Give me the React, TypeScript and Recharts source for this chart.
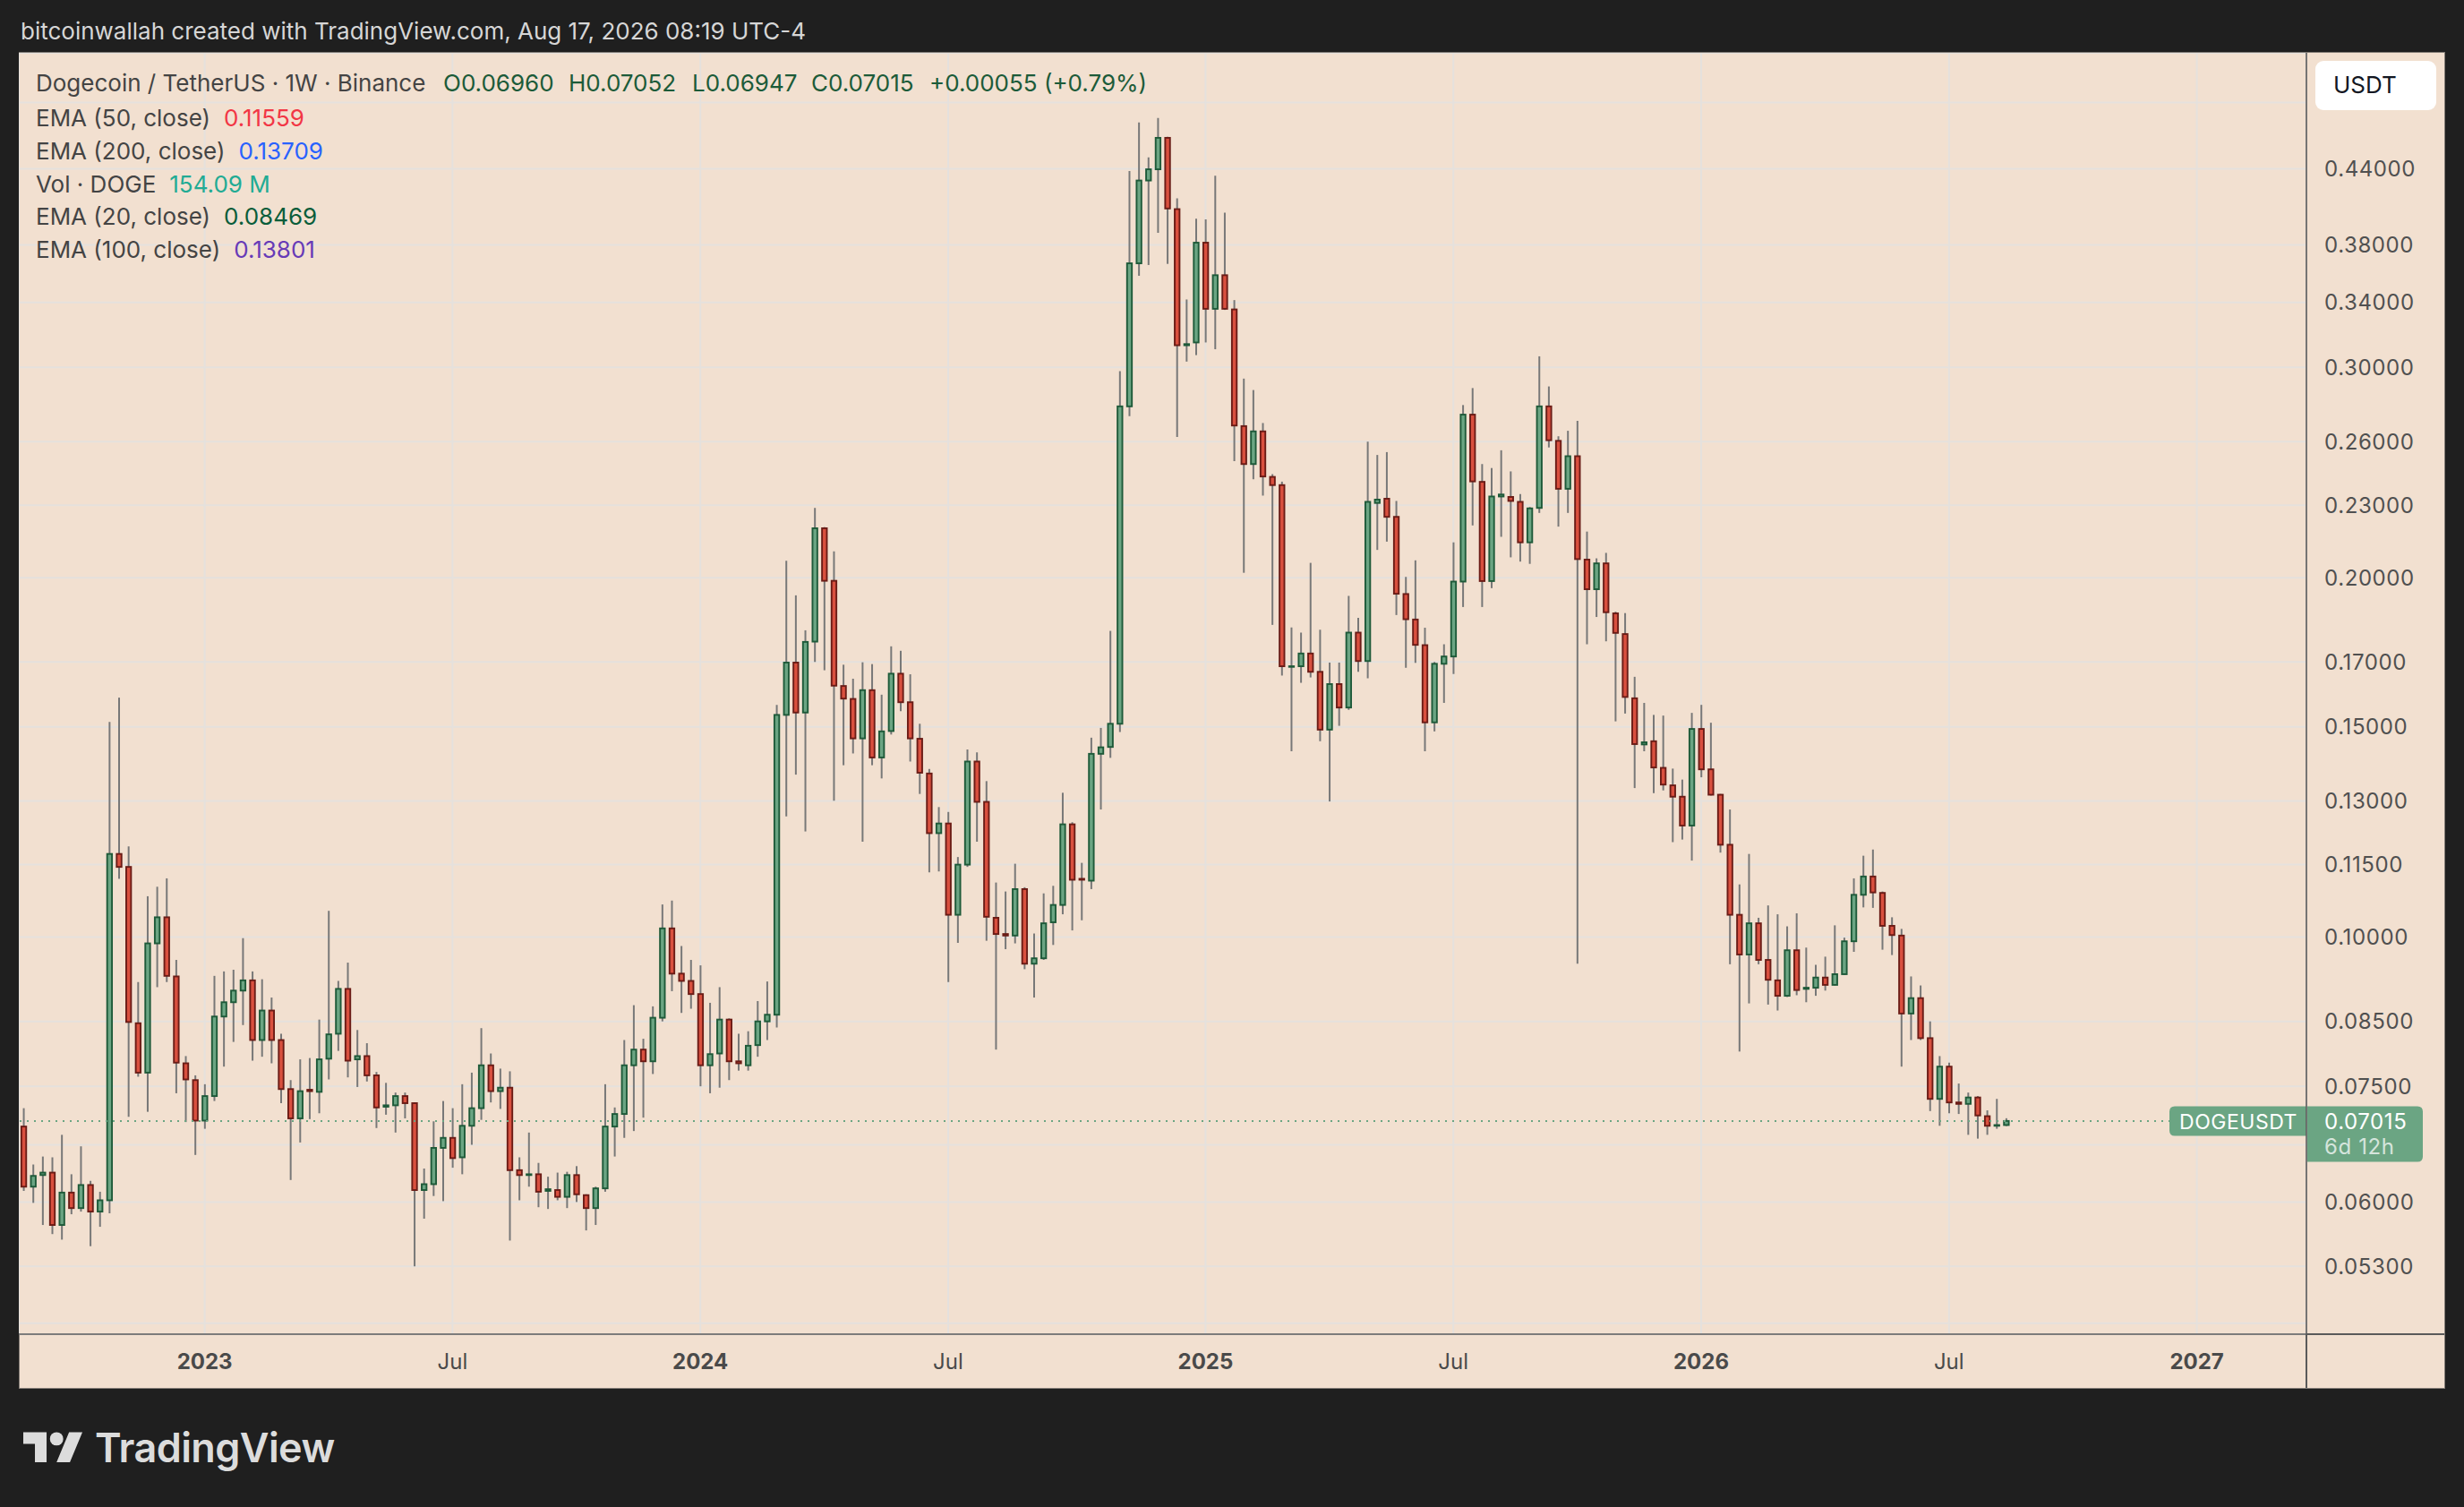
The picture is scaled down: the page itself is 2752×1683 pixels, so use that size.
import React from 'react';
import { ComposedChart, Bar, XAxis, YAxis, CartesianGrid, ReferenceLine } from 'recharts';

// Weekly DOGE/USDT candles, first week starting 2022-08-22
const opens = [
  0.0694, 0.0618, 0.0632, 0.0635, 0.0574, 0.0611, 0.0593, 0.0620, 0.0589, 0.0602,
  0.1174, 0.1145, 0.0847, 0.0770, 0.0988, 0.1039, 0.0927, 0.0784, 0.0759, 0.0702,
  0.0736, 0.0858, 0.0882, 0.0902, 0.0920, 0.0820, 0.0868, 0.0820, 0.0746, 0.0705,
  0.0745, 0.0742, 0.0791, 0.0830, 0.0905, 0.0790, 0.0795, 0.0766, 0.0721, 0.0723,
  0.0736, 0.0726, 0.0614, 0.0621, 0.0666, 0.0679, 0.0654, 0.0695, 0.0719, 0.0781,
  0.0743, 0.0748, 0.0638, 0.0632, 0.0633, 0.0613, 0.0614, 0.0606, 0.0632, 0.0608,
  0.0593, 0.0616, 0.0694, 0.0711, 0.0781, 0.0805, 0.0787, 0.0856, 0.1017, 0.0932,
  0.0919, 0.0896, 0.0781, 0.0799, 0.0853, 0.0787, 0.0781, 0.0812, 0.0850, 0.0861,
  0.1535, 0.1698, 0.1542, 0.1768, 0.2200, 0.1988, 0.1623, 0.1583, 0.1467, 0.1610,
  0.1414, 0.1488, 0.1662, 0.1573, 0.1466, 0.1371, 0.1222, 0.1245, 0.1044, 0.1150,
  0.1403, 0.1298, 0.1038, 0.1006, 0.1003, 0.1097, 0.0950, 0.0960, 0.1029, 0.1064,
  0.1243, 0.1119, 0.1115, 0.1424, 0.1443, 0.1509, 0.2783, 0.3667, 0.4302, 0.4396,
  0.4671, 0.4071, 0.3131, 0.3148, 0.3816, 0.3359, 0.3584, 0.3355, 0.2679, 0.2490,
  0.2652, 0.2429, 0.2391, 0.1684, 0.1686, 0.1728, 0.1668, 0.1492, 0.1629, 0.1557,
  0.1799, 0.1703, 0.2310, 0.2329, 0.2249, 0.1938, 0.1845, 0.1756, 0.1513, 0.1694,
  0.1718, 0.1985, 0.2739, 0.2406, 0.1987, 0.2339, 0.2337, 0.2315, 0.2141, 0.2288,
  0.2783, 0.2604, 0.2374, 0.2528, 0.2071, 0.1956, 0.2056, 0.1867, 0.1794, 0.1585,
  0.1450, 0.1459, 0.1386, 0.1340, 0.1311, 0.1240, 0.1494, 0.1382, 0.1316, 0.1195,
  0.1044, 0.0967, 0.1027, 0.0957, 0.0920, 0.0893, 0.0975, 0.0905, 0.0907, 0.0925,
  0.0912, 0.0931, 0.0992, 0.1085, 0.1124, 0.1089, 0.1022, 0.1003, 0.0863, 0.0889,
  0.0823, 0.0732, 0.0779, 0.0727, 0.0725, 0.0734, 0.0708, 0.0695, 0.0696,
];
const highs = [
  0.0719, 0.0645, 0.0655, 0.0654, 0.0683, 0.0633, 0.0668, 0.0625, 0.0612, 0.1514,
  0.1587, 0.1191, 0.0917, 0.1082, 0.1102, 0.1120, 0.0957, 0.0795, 0.0766, 0.0753,
  0.0928, 0.0936, 0.0939, 0.0998, 0.0936, 0.0922, 0.0890, 0.0830, 0.0759, 0.0790,
  0.0792, 0.0853, 0.1052, 0.0919, 0.0952, 0.0836, 0.0815, 0.0771, 0.0755, 0.0741,
  0.0741, 0.0727, 0.0640, 0.0701, 0.0729, 0.0719, 0.0753, 0.0770, 0.0839, 0.0799,
  0.0776, 0.0772, 0.0654, 0.0686, 0.0647, 0.0630, 0.0635, 0.0636, 0.0643, 0.0609,
  0.0618, 0.0753, 0.0720, 0.0820, 0.0877, 0.0822, 0.0875, 0.1065, 0.1073, 0.0983,
  0.0957, 0.0947, 0.0881, 0.0908, 0.0855, 0.0830, 0.0834, 0.0884, 0.0918, 0.1565,
  0.2066, 0.1933, 0.1807, 0.2288, 0.2205, 0.2104, 0.1691, 0.1646, 0.1699, 0.1693,
  0.1596, 0.1752, 0.1737, 0.1660, 0.1509, 0.1383, 0.1285, 0.1273, 0.1167, 0.1436,
  0.1428, 0.1351, 0.1111, 0.1092, 0.1152, 0.1101, 0.1007, 0.1088, 0.1104, 0.1321,
  0.1248, 0.1154, 0.1469, 0.1497, 0.1805, 0.2979, 0.4382, 0.4812, 0.4499, 0.4854,
  0.4680, 0.4156, 0.3420, 0.3996, 0.3991, 0.4342, 0.4044, 0.3416, 0.2936, 0.2872,
  0.2695, 0.2442, 0.2407, 0.1817, 0.1799, 0.2058, 0.1809, 0.1698, 0.1698, 0.1931,
  0.1851, 0.2600, 0.2534, 0.2548, 0.2319, 0.2003, 0.2068, 0.1816, 0.1700, 0.1759,
  0.2141, 0.2790, 0.2883, 0.2490, 0.2471, 0.2557, 0.2455, 0.2350, 0.2292, 0.3065,
  0.2892, 0.2627, 0.2655, 0.2706, 0.2186, 0.2076, 0.2098, 0.1873, 0.1868, 0.1652,
  0.1571, 0.1535, 0.1533, 0.1384, 0.1355, 0.1541, 0.1565, 0.1512, 0.1318, 0.1279,
  0.1107, 0.1174, 0.1038, 0.1063, 0.1045, 0.1021, 0.1047, 0.0980, 0.0948, 0.0963,
  0.1023, 0.0999, 0.1120, 0.1170, 0.1184, 0.1092, 0.1039, 0.1016, 0.0927, 0.0911,
  0.0850, 0.0795, 0.0785, 0.0754, 0.0741, 0.0736, 0.0716, 0.0732, 0.07052,
];
const lows = [
  0.0613, 0.0599, 0.0574, 0.0564, 0.0558, 0.0586, 0.0589, 0.0551, 0.0572, 0.0587,
  0.1119, 0.0707, 0.0764, 0.0714, 0.0908, 0.0917, 0.0740, 0.0700, 0.0657, 0.0691,
  0.0729, 0.0779, 0.0817, 0.0844, 0.0788, 0.0794, 0.0784, 0.0726, 0.0626, 0.0673,
  0.0704, 0.0712, 0.0760, 0.0803, 0.0763, 0.0749, 0.0757, 0.0692, 0.0710, 0.0686,
  0.0705, 0.0530, 0.0581, 0.0607, 0.0601, 0.0641, 0.0633, 0.0670, 0.0703, 0.0727,
  0.0718, 0.0557, 0.0602, 0.0618, 0.0594, 0.0592, 0.0602, 0.0593, 0.0600, 0.0568,
  0.0574, 0.0612, 0.0655, 0.0679, 0.0688, 0.0706, 0.0768, 0.0850, 0.0901, 0.0864,
  0.0871, 0.0750, 0.0740, 0.0748, 0.0759, 0.0773, 0.0773, 0.0794, 0.0820, 0.0840,
  0.1262, 0.1368, 0.1226, 0.1700, 0.1673, 0.1301, 0.1393, 0.1425, 0.1202, 0.1393,
  0.1358, 0.1478, 0.1546, 0.1403, 0.1318, 0.1133, 0.1135, 0.0917, 0.0989, 0.1145,
  0.1202, 0.0993, 0.0805, 0.0977, 0.0988, 0.0940, 0.0890, 0.0957, 0.0985, 0.1045,
  0.1013, 0.1033, 0.1097, 0.1279, 0.1413, 0.1485, 0.2731, 0.3580, 0.3655, 0.3889,
  0.3663, 0.2624, 0.3034, 0.3072, 0.3148, 0.3107, 0.3352, 0.2504, 0.2019, 0.2418,
  0.2343, 0.1826, 0.1656, 0.1431, 0.1633, 0.1650, 0.1459, 0.1299, 0.1503, 0.1550,
  0.1668, 0.1647, 0.2110, 0.2144, 0.1861, 0.1681, 0.1697, 0.1431, 0.1487, 0.1571,
  0.1661, 0.1890, 0.2212, 0.1890, 0.1960, 0.2164, 0.2080, 0.2063, 0.2054, 0.2266,
  0.2571, 0.2207, 0.2266, 0.0950, 0.1759, 0.1854, 0.1769, 0.1516, 0.1539, 0.1333,
  0.1431, 0.1320, 0.1327, 0.1201, 0.1207, 0.1159, 0.1361, 0.1314, 0.1177, 0.0949,
  0.0802, 0.0880, 0.0949, 0.0878, 0.0868, 0.0891, 0.0894, 0.0882, 0.0893, 0.0902,
  0.0911, 0.0930, 0.0972, 0.1059, 0.1058, 0.0976, 0.0966, 0.0779, 0.0820, 0.0820,
  0.0715, 0.0695, 0.0712, 0.0711, 0.0683, 0.0678, 0.0683, 0.0691, 0.06947,
];
const closes = [
  0.0618, 0.0631, 0.0635, 0.0574, 0.0611, 0.0593, 0.0620, 0.0589, 0.0602, 0.1174,
  0.1145, 0.0849, 0.0770, 0.0988, 0.1039, 0.0928, 0.0785, 0.0760, 0.0702, 0.0736,
  0.0858, 0.0882, 0.0902, 0.0920, 0.0820, 0.0868, 0.0820, 0.0746, 0.0705, 0.0743,
  0.0743, 0.0790, 0.0829, 0.0905, 0.0788, 0.0795, 0.0766, 0.0720, 0.0723, 0.0736,
  0.0726, 0.0614, 0.0621, 0.0666, 0.0679, 0.0653, 0.0695, 0.0719, 0.0781, 0.0743,
  0.0748, 0.0638, 0.0632, 0.0633, 0.0612, 0.0615, 0.0606, 0.0632, 0.0609, 0.0593,
  0.0616, 0.0694, 0.0711, 0.0781, 0.0805, 0.0787, 0.0856, 0.1017, 0.0932, 0.0919,
  0.0896, 0.0781, 0.0798, 0.0853, 0.0787, 0.0784, 0.0811, 0.0850, 0.0861, 0.1535,
  0.1698, 0.1542, 0.1767, 0.2200, 0.1988, 0.1624, 0.1584, 0.1467, 0.1610, 0.1414,
  0.1487, 0.1662, 0.1573, 0.1467, 0.1373, 0.1222, 0.1245, 0.1044, 0.1150, 0.1403,
  0.1298, 0.1040, 0.1006, 0.1003, 0.1097, 0.0950, 0.0960, 0.1027, 0.1064, 0.1243,
  0.1117, 0.1117, 0.1424, 0.1442, 0.1509, 0.2783, 0.3667, 0.4302, 0.4396, 0.4671,
  0.4076, 0.3131, 0.3138, 0.3816, 0.3359, 0.3584, 0.3359, 0.2682, 0.2490, 0.2652,
  0.2431, 0.2391, 0.1686, 0.1686, 0.1728, 0.1668, 0.1492, 0.1629, 0.1557, 0.1799,
  0.1703, 0.2315, 0.2325, 0.2249, 0.1939, 0.1846, 0.1757, 0.1513, 0.1694, 0.1718,
  0.1985, 0.2739, 0.2408, 0.1987, 0.2339, 0.2348, 0.2319, 0.2141, 0.2286, 0.2783,
  0.2607, 0.2374, 0.2528, 0.2073, 0.1956, 0.2056, 0.1871, 0.1798, 0.1589, 0.1451,
  0.1456, 0.1387, 0.1342, 0.1311, 0.1240, 0.1494, 0.1382, 0.1316, 0.1195, 0.1044,
  0.0967, 0.1027, 0.0957, 0.0921, 0.0893, 0.0975, 0.0903, 0.0907, 0.0925, 0.0912,
  0.0931, 0.0992, 0.1085, 0.1124, 0.1090, 0.1022, 0.1004, 0.0863, 0.0889, 0.0823,
  0.0732, 0.0779, 0.0727, 0.0725, 0.0734, 0.0709, 0.0695, 0.0696, 0.07015,
];

// time axis: week slots (data + empty future space), tick week indices and labels
const totalWeekSlots = 240;
const timeTickWeeks = [19, 45, 71, 97, 124, 150, 176, 202, 228];
const timeTickLabels = ['2023', 'Jul', '2024', 'Jul', '2025', 'Jul', '2026', 'Jul', '2027'];

// price axis (log scale) gridline levels; some labels are hidden by overlays
const priceGridLevels = [0.5, 0.44, 0.38, 0.34, 0.3, 0.26, 0.23, 0.2, 0.17, 0.15, 0.13, 0.115, 0.1, 0.085, 0.075, 0.067, 0.06, 0.053, 0.0475];
const priceHiddenLabels = [0.5, 0.067, 0.0475];
const priceDomain = [0.0465, 0.5503];
const lastPrice = 0.07015;

const data = Array.from({ length: totalWeekSlots }, (_, i) =>
  i < opens.length
    ? { i, o: opens[i], h: highs[i], l: lows[i], c: closes[i], range: [lows[i], highs[i]] }
    : { i, range: null }
);

const FONT = 'Inter, "Noto Sans", Roboto, sans-serif';
const UP_FILL = '#6ba583';
const UP_LINE = '#1e5a39';
const DN_FILL = '#d9503f';
const DN_LINE = '#6b1c16';
const WICK = '#787878';

const Candle = (props: any) => {
  const { x, y, width, height, payload } = props;
  if (!payload || payload.o == null || !isFinite(y) || !isFinite(height)) return null;
  const { o, h, l, c } = payload;
  const yTop = Math.min(y, y + height);
  const yBot = Math.max(y, y + height);
  const cx = x + width / 2;
  const lh = Math.log(h);
  const span = lh - Math.log(l);
  const py = (v: number) => (span > 0 ? yTop + ((lh - Math.log(v)) / span) * (yBot - yTop) : yTop);
  const up = c >= o;
  const top = py(Math.max(o, c));
  const bot = py(Math.min(o, c));
  const bw = 5.4;
  return (
    <g>
      <line x1={cx} x2={cx} y1={yTop} y2={yBot} stroke={WICK} strokeWidth={2} />
      <rect
        x={cx - bw / 2}
        y={top}
        width={bw}
        height={Math.max(bot - top, 0.6)}
        fill={up ? UP_FILL : DN_FILL}
        stroke={up ? UP_LINE : DN_LINE}
        strokeWidth={1.9}
      />
    </g>
  );
};

const TimeTick = (props: any) => {
  const { x, y, payload } = props;
  const idx = timeTickWeeks.indexOf(payload.value);
  if (idx < 0) return null;
  const label = timeTickLabels[idx];
  const isYear = /^\d/.test(label);
  return (
    <text x={x} y={y + 30} textAnchor="middle" dominantBaseline="central" fontFamily={FONT}
      fontSize={24} fontWeight={isYear ? 700 : 400} fill="#4a4a4a">
      {label}
    </text>
  );
};

const PriceTick = (props: any) => {
  const { x, y, payload } = props;
  if (priceHiddenLabels.includes(payload.value)) return null;
  return (
    <text x={x + 20} y={y} textAnchor="start" dominantBaseline="central" fontFamily={FONT}
      fontSize={24} fill="#505050" letterSpacing={0.6}>
      {Number(payload.value).toFixed(5)}
    </text>
  );
};

const roundRect = (x: number, y: number, w: number, h: number, r: [number, number, number, number]) => {
  const [tl, tr, br, bl] = r;
  return `M${x + tl},${y} H${x + w - tr} Q${x + w},${y} ${x + w},${y + tr} V${y + h - br} Q${x + w},${y + h} ${x + w - br},${y + h} H${x + bl} Q${x},${y + h} ${x},${y + h - bl} V${y + tl} Q${x},${y} ${x + tl},${y} Z`;
};

const PriceLabel = (props: any) => {
  const vb = props.viewBox;
  if (!vb) return null;
  const right = vb.x + vb.width;
  const cy = vb.y;
  return (
    <g>
      <path d={roundRect(right - 153, cy - 16.5, 153, 33, [6, 0, 0, 6])} fill={UP_FILL} />
      <text x={right - 76} y={cy + 1} textAnchor="middle" dominantBaseline="central" fontFamily={FONT} fontSize={23} fill="#ffffff" letterSpacing={0.5}>
        DOGEUSDT
      </text>
      <path d={roundRect(right + 1, cy - 16.5, 129, 62, [0, 6, 6, 0])} fill={UP_FILL} />
      <text x={right + 20} y={cy + 1} textAnchor="start" dominantBaseline="central" fontFamily={FONT} fontSize={24} fill="#ffffff" letterSpacing={0.6}>
        {lastPrice.toFixed(5)}
      </text>
      <text x={right + 20} y={cy + 29} textAnchor="start" dominantBaseline="central" fontFamily={FONT} fontSize={24} fill="rgba(255,255,255,0.72)" letterSpacing={0.6}>
        6d 12h
      </text>
    </g>
  );
};

const legendRows = [
  { label: 'EMA (50, close)', value: '0.11559', color: '#f23645' },
  { label: 'EMA (200, close)', value: '0.13709', color: '#2962ff' },
  { label: 'Vol · DOGE', value: '154.09 M', color: '#22ab94' },
  { label: 'EMA (20, close)', value: '0.08469', color: '#0a5d3a' },
  { label: 'EMA (100, close)', value: '0.13801', color: '#673ab7' },
];
const ohlcItems = [
  { text: 'O0.06960', x: 495 },
  { text: 'H0.07052', x: 635 },
  { text: 'L0.06947', x: 773 },
  { text: 'C0.07015', x: 906 },
  { text: '+0.00055 (+0.79%)', x: 1038 },
];

const txt = (extra: React.CSSProperties): React.CSSProperties => ({
  position: 'absolute',
  fontFamily: FONT,
  fontSize: 26,
  lineHeight: '26px',
  whiteSpace: 'nowrap',
  ...extra,
});

export default function App() {
  return (
    <div style={{ position: 'fixed', left: 0, top: 0, width: 2752, height: 1683, background: '#1f1f1f', overflow: 'hidden' }}>
      <div style={txt({ left: 23, top: 22, color: '#d6d6d6' })}>
        bitcoinwallah created with TradingView.com, Aug 17, 2026 08:19 UTC-4
      </div>

      <div style={{ position: 'absolute', left: 22, top: 59, width: 2708, height: 1491, background: '#f2e0d0', boxShadow: '0 0 0 1px #837d77' }} />

      <div style={{ position: 'absolute', left: 21, top: 59 }}>
        <ComposedChart width={2709} height={1491} data={data} margin={{ top: 0, right: 0, bottom: 0, left: 0 }} barCategoryGap="10%">
          <CartesianGrid stroke="#e5e1dd" strokeWidth={2} />
          <XAxis dataKey="i" type="category" ticks={timeTickWeeks} interval={0} height={60}
            tickLine={false} tickSize={0} tickMargin={0} axisLine={{ stroke: '#5a5a5a', strokeWidth: 1.6 }} tick={<TimeTick />} />
          <YAxis orientation="right" type="number" scale="log" domain={priceDomain} allowDataOverflow
            ticks={priceGridLevels} interval={0} width={154} tickLine={false} tickSize={0} tickMargin={0}
            axisLine={{ stroke: '#5a5a5a', strokeWidth: 1.6 }} tick={<PriceTick />} />
          <Bar dataKey="range" shape={<Candle />} isAnimationActive={false} />
          <ReferenceLine y={lastPrice} stroke={UP_FILL} strokeWidth={2} strokeDasharray="2 6" label={<PriceLabel />} />
        </ComposedChart>
      </div>

      {/* divider extensions through the axis corners */}
      <div style={{ position: 'absolute', left: 2576, top: 1489.2, width: 154, height: 1.6, background: '#5a5a5a' }} />
      <div style={{ position: 'absolute', left: 2575.2, top: 1490, width: 1.6, height: 60, background: '#5a5a5a' }} />

      {/* currency box */}
      <div style={{ position: 'absolute', left: 2586, top: 68, width: 135, height: 55, background: '#ffffff', borderRadius: 9 }} />
      <div style={txt({ left: 2606, top: 82, fontSize: 26, lineHeight: '26px', color: '#131722' })}>USDT</div>

      {/* legend */}
      <div style={txt({ left: 40, top: 80, color: '#444444' })}>Dogecoin / TetherUS · 1W · Binance</div>
      {ohlcItems.map((it) => (
        <div key={it.text} style={txt({ left: it.x, top: 80, color: '#1c5b39' })}>{it.text}</div>
      ))}
      {legendRows.map((r, k) => (
        <div key={r.label} style={txt({ left: 40, top: 118.7 + k * 36.9, display: 'flex', gap: 15 })}>
          <span style={{ color: '#444444' }}>{r.label}</span>
          <span style={{ color: r.color }}>{r.value}</span>
        </div>
      ))}

      {/* TradingView logo */}
      <svg style={{ position: 'absolute', left: 26, top: 1591.6 }} width={36 * 1.86} height={28 * 1.86} viewBox="0 0 36 28">
        <path d="M14 22H7V11H0V4h14v18z M28 22h-8l7.5-18h8L28 22z" fill="#dcdcdc" />
        <circle cx="20" cy="8" r="4" fill="#dcdcdc" />
      </svg>
      <div style={txt({ left: 106, top: 1594, fontSize: 45, lineHeight: '45px', fontWeight: 600, color: '#dcdcdc', letterSpacing: -0.6 })}>
        TradingView
      </div>
    </div>
  );
}
